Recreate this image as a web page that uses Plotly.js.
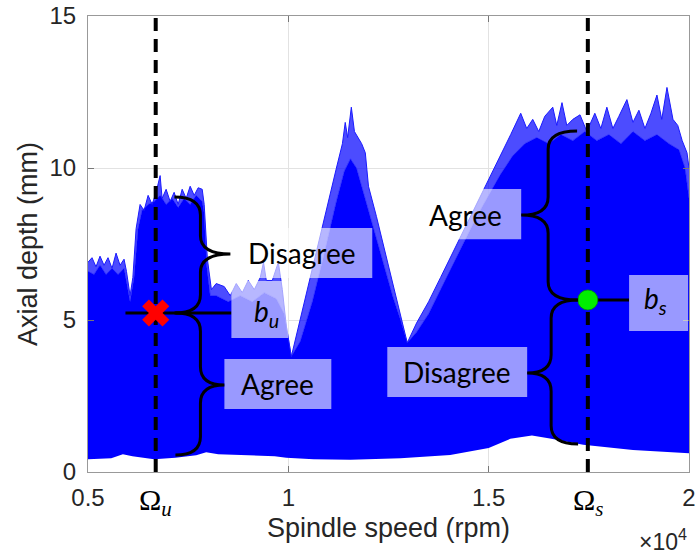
<!DOCTYPE html>
<html>
<head>
<meta charset="utf-8">
<script src="https://cdn.plot.ly/plotly-3.0.1.min.js"></script>
<style>html,body{margin:0;padding:0;background:#fff}#chart{width:697px;height:555px}</style>
</head>
<body>
<div id="chart"></div>
<script>
// ---- Data ----
// lower boundary of all stability lobes
const lowRpm   = [5000,5580,5870,6110,6650,7180,7700,7950,8250,9660,9950,10630,11550,12800,14040,15000,15540,16080,16530,17360,18600,20000];
const lowDepth = [0.42,0.45,0.58,0.52,0.42,0.47,0.55,0.65,0.58,0.52,0.47,0.42,0.40,0.45,0.56,0.79,1.09,1.20,1.10,0.90,0.72,0.62];

// top of the densely overlapping lobe bundle
const denseRpm   = [5000,5150,5300,5450,5600,5750,5900,5980,6050,6150,6250,6350,6500,6650,6800,6950,7100,7250,7400,7550,7700,7850,7900,7960,8050,8200,8500,8800,9100,9400,9700,9900,10075,10300,10600,10900,11200,11400,11550,11700,11850,12000,12200,12400,12600,12800,12968,13200,13500,13800,14100,14400,14700,15000,15300,15600,15900,16200,16500,16800,17100,17400,17700,18000,18300,18600,18900,19200,19500,19750,19900,20000];
const denseDepth = [6.6,6.5,6.8,6.5,6.7,6.5,6.7,6.1,5.6,6.4,8.0,8.6,8.8,8.9,9.1,8.8,9.0,8.7,9.0,8.8,9.1,8.9,8.5,6.8,5.8,5.8,5.6,5.8,5.6,5.9,5.7,5.2,3.8,4.3,5.6,7.2,8.9,9.9,10.3,10.0,9.3,8.6,7.7,6.8,5.8,5.0,4.25,4.6,5.2,6.0,6.8,7.6,8.4,9.1,9.8,10.4,10.8,11.0,10.8,11.1,10.9,11.2,10.9,11.1,10.8,11.2,10.9,11.1,10.8,10.6,10.0,9.0];

// upper envelope (highest lobe lines)
const peakRpm   = [5000,5100,5200,5300,5400,5500,5600,5700,5800,5900,5960,6050,6120,6200,6300,6400,6500,6600,6700,6800,6850,6950,7050,7150,7250,7350,7450,7550,7650,7750,7850,7900,7980,8080,8200,8400,8550,8700,8850,9000,9150,9300,9380,9450,9600,9750,9850,9950,10075,10200,10400,10600,10800,11000,11200,11350,11420,11480,11572,11650,11746,11830,11921,11960,12000,12200,12400,12600,12800,12968,13200,13500,13800,14100,14400,14700,15000,15300,15550,15800,15950,16100,16250,16400,16600,16700,16830,16950,17100,17280,17450,17650,17800,17950,18100,18250,18450,18600,18750,18900,19050,19200,19320,19450,19600,19720,19830,19950,20000];
const peakDepth = [6.9,7.05,6.75,7.1,6.8,7.05,6.7,7.2,6.8,7.0,6.6,5.8,6.4,8.0,8.8,8.6,9.1,8.8,9.2,9.75,9.0,9.3,8.9,9.2,8.8,9.3,9.0,9.4,9.1,9.35,9.3,8.8,7.0,6.0,6.2,6.1,5.8,6.2,5.9,6.3,6.0,6.4,6.9,6.3,6.3,6.9,6.0,4.8,3.8,4.5,5.6,6.7,7.8,8.9,10.0,10.8,11.5,11.0,12.0,11.2,11.0,10.8,10.5,9.8,9.4,8.4,7.3,6.2,5.2,4.25,4.9,5.6,6.4,7.2,8.0,8.8,9.6,10.4,11.1,11.8,11.3,11.6,11.2,11.7,12.0,11.4,12.15,11.4,11.6,11.75,11.2,11.8,11.3,12.0,11.3,11.7,12.25,11.5,11.9,11.3,11.8,12.4,11.6,12.65,11.6,11.4,10.9,10.5,10.0];

// operating points
const omegaRpm   = [6690, 17475];     // Ω_u, Ω_s
const pointDepth = [5.23, 5.66];      // b_u, b_s

// axis ticks
const xTickVals = [5000, 10000, 15000, 20000];
const xTickText = ['0.5', '1', '1.5', '2'];
const yTickVals = [0, 5, 10, 15];

// ---- annotation geometry (data units) ----
const boxes = [
  {x0: 8604,  x1: 12095, y0: 6.38, y1: 8.03, text: 'Disagree', tx: 10350, ty: 7.2},
  {x0: 8579,  x1: 10000, y0: 4.41, y1: 6.28, text: '<i>b<sub>u</sub></i>', tx: 9452, ty: 5.23},
  {x0: 8404,  x1: 11073, y0: 2.07, y1: 3.72, text: 'Agree', tx: 9726, ty: 2.9},
  {x0: 13293, x1: 15812, y0: 7.66, y1: 9.31, text: 'Agree', tx: 14415, ty: 8.45},
  {x0: 12470, x1: 15961, y0: 2.47, y1: 4.11, text: 'Disagree', tx: 14215, ty: 3.29},
  {x0: 18505, x1: 19977, y0: 4.64, y1: 6.48, text: '<i>b<sub>s</sub></i>', tx: 19154, ty: 5.66}
];
const braces = [
  {v: 7806,  hook: 7157,  tip: 8554,  top: 9.05,  mid: 7.17, bot: 5.23},
  {v: 7806,  hook: 7182,  tip: 8404,  top: 5.23,  mid: 2.86, bot: 0.56},
  {v: 16484, hook: 17207, tip: 15812, top: 11.22, mid: 8.45, bot: 5.66},
  {v: 16559, hook: 17232, tip: 15961, top: 5.66,  mid: 3.26, bot: 0.92}
];
const connectors = [
  {x: [5935, 8579],   y: [5.23, 5.23]},
  {x: [17207, 18505], y: [5.66, 5.66]}
];

function bracePath(b) {
  const r = 0.6;
  return `M${b.hook},${b.top} Q${b.v},${b.top} ${b.v},${b.top - r} ` +
         `L${b.v},${b.mid + r} Q${b.v},${b.mid} ${b.tip},${b.mid} ` +
         `Q${b.v},${b.mid} ${b.v},${b.mid - r} ` +
         `L${b.v},${b.bot + r} Q${b.v},${b.bot} ${b.hook},${b.bot}`;
}

const traces = [
  {x: lowRpm, y: lowDepth, mode: 'lines', line: {width: 0, color: '#0000ff'}, hoverinfo: 'skip', showlegend: false},
  {x: denseRpm, y: denseDepth, mode: 'lines', fill: 'tonexty', fillcolor: '#0000ff', line: {width: 0.5, color: '#0000ff'}, showlegend: false},
  {x: peakRpm, y: peakDepth, mode: 'lines', fill: 'tonexty', fillcolor: 'rgba(0,0,255,0.7)', line: {width: 1, color: '#1a1aff'}, showlegend: false}
];
omegaRpm.forEach(function (om) {
  traces.push({x: [om, om], y: [0, 15], mode: 'lines', line: {color: '#000', width: 4, dash: '13px,8px'}, showlegend: false});
});
connectors.forEach(function (c) {
  traces.push({x: c.x, y: c.y, mode: 'lines', line: {color: '#000', width: 3}, showlegend: false});
});
traces.push({x: [omegaRpm[0]], y: [pointDepth[0]], mode: 'markers', marker: {symbol: 'x', size: 24, color: '#ff0000', line: {width: 0}}, showlegend: false});
traces.push({x: [omegaRpm[1]], y: [pointDepth[1]], mode: 'markers', marker: {symbol: 'circle', size: 20, color: '#00ee00', line: {width: 0.8, color: '#009900'}}, showlegend: false});

const shapes = [];
boxes.forEach(function (b) {
  shapes.push({type: 'rect', xref: 'x', yref: 'y', x0: b.x0, x1: b.x1, y0: b.y0, y1: b.y1,
               fillcolor: 'rgba(255,255,255,0.6)', line: {width: 0}, layer: 'above'});
});
braces.forEach(function (b) {
  shapes.push({type: 'path', xref: 'x', yref: 'y', path: bracePath(b), line: {color: '#000', width: 3}, layer: 'above'});
});

const annotations = boxes.map(function (b) {
  return {x: b.tx, y: b.ty, xref: 'x', yref: 'y', text: b.text, showarrow: false,
          font: {family: 'Lato, "Open Sans", sans-serif', size: 28, color: '#000'}};
});
annotations.push({x: omegaRpm[0], y: -0.066, xref: 'x', yref: 'paper', yanchor: 'middle', text: 'Ω<sub><i>u</i></sub>', showarrow: false,
                  font: {family: '"Liberation Serif", "DejaVu Serif", serif', size: 30, color: '#000'}});
annotations.push({x: omegaRpm[1], y: -0.066, xref: 'x', yref: 'paper', yanchor: 'middle', text: 'Ω<sub><i>s</i></sub>', showarrow: false,
                  font: {family: '"Liberation Serif", "DejaVu Serif", serif', size: 30, color: '#000'}});
annotations.push({x: 1.0, y: -0.15, xref: 'paper', yref: 'paper', xanchor: 'right', yanchor: 'middle', text: '×10<sup>4</sup>', showarrow: false,
                  font: {family: '"Liberation Sans", Arial, sans-serif', size: 23, color: '#262626'}});

const layout = {
  width: 697, height: 555,
  margin: {l: 88, r: 8, t: 16, b: 83},
  paper_bgcolor: '#fff', plot_bgcolor: '#fff',
  font: {family: '"Liberation Sans", Arial, sans-serif', color: '#262626'},
  showlegend: false,
  xaxis: {
    range: [5000, 20000], tickvals: xTickVals, ticktext: xTickText,
    ticks: 'inside', ticklen: 6, tickcolor: '#777', mirror: 'allticks',
    showline: true, linecolor: '#999', linewidth: 1,
    showgrid: true, gridcolor: '#e2e2e2', zeroline: false,
    tickfont: {size: 24, color: '#262626'}, ticklabelstandoff: 4,
    title: {text: 'Spindle speed (rpm)', font: {size: 27, color: '#262626'}, standoff: 8}
  },
  yaxis: {
    range: [0, 15], tickvals: yTickVals,
    ticks: 'inside', ticklen: 6, tickcolor: '#777', mirror: 'allticks',
    showline: true, linecolor: '#999', linewidth: 1,
    showgrid: true, gridcolor: '#e2e2e2', zeroline: false,
    tickfont: {size: 24, color: '#262626'}, ticklabelstandoff: 6,
    title: {text: 'Axial depth (mm)', font: {size: 27, color: '#262626'}, standoff: 4}
  },
  shapes: shapes,
  annotations: annotations
};

Plotly.newPlot('chart', traces, layout, {staticPlot: true, displayModeBar: false});
</script>
</body>
</html>
